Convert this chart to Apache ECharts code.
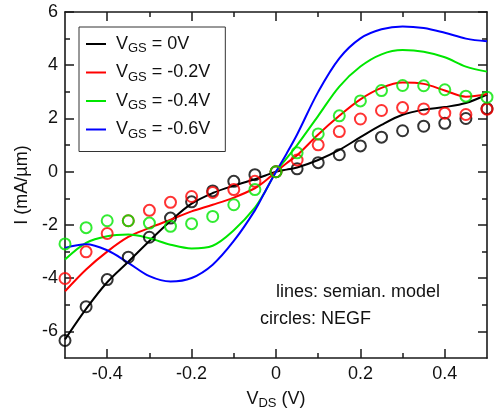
<!DOCTYPE html>
<html>
<head>
<meta charset="utf-8">
<script src="https://cdn.jsdelivr.net/npm/echarts@6/dist/echarts.min.js"></script>
<style>
  html, body { margin: 0; padding: 0; background: #fff; }
  #chart { width: 495px; height: 415px; }
</style>
</head>
<body>
<div id="chart"></div>
<script>
// Drain bias grid for the semi-analytical model curves (V)
const vdsLine = [-0.5, -0.45, -0.4, -0.35, -0.3, -0.25, -0.2, -0.15, -0.1, -0.05, -0.025, 0,
                 0.025, 0.05, 0.1, 0.15, 0.2, 0.25, 0.3, 0.35, 0.4, 0.45, 0.5];
// Model current (mA/um) for each gate bias
const lineVgs0  = [-6.3, -5.15, -4.15, -3.38, -2.6, -1.85, -1.2, -0.8, -0.52, -0.28, -0.14, 0,
                   0.08, 0.16, 0.44, 0.82, 1.3, 1.76, 2.14, 2.33, 2.43, 2.58, 2.9];
const lineVgs02 = [-4.49, -3.67, -3.0, -2.45, -2.11, -1.8, -1.49, -1.24, -0.97, -0.62, -0.34, 0,
                   0.32, 0.62, 1.4, 2.1, 2.72, 3.15, 3.35, 3.3, 3.05, 2.82, 2.92];
const lineVgs04 = [-3.3, -2.67, -2.42, -2.36, -2.5, -2.74, -2.88, -2.78, -2.2, -1.35, -0.72, 0,
                   0.5, 1.0, 2.1, 3.2, 3.95, 4.41, 4.57, 4.51, 4.3, 3.95, 3.76];
const lineVgs06 = [-2.86, -2.72, -2.95, -3.42, -3.92, -4.12, -3.99, -3.49, -2.6, -1.45, -0.72, 0,
                   0.68, 1.4, 3.0, 4.26, 5.01, 5.35, 5.46, 5.4, 5.22, 5.0, 4.9];

// Drain bias points of the NEGF simulations (V)
const vdsNegf = [-0.5, -0.45, -0.4, -0.35, -0.3, -0.25, -0.2, -0.15, -0.1, -0.05, 0,
                 0.05, 0.1, 0.15, 0.2, 0.25, 0.3, 0.35, 0.4, 0.45, 0.5];
const negfVgs0  = [-6.34, -5.07, -4.05, -3.21, -2.46, -1.74, -1.13, -0.72, -0.36, -0.11, 0,
                   0.11, 0.34, 0.64, 0.97, 1.3, 1.54, 1.71, 1.82, 2.0, 2.37];
const negfVgs02 = [-4.01, -3.01, -2.32, -1.84, -1.45, -1.15, -0.93, -0.78, -0.67, -0.36, 0,
                   0.44, 1.01, 1.51, 1.98, 2.3, 2.41, 2.36, 2.2, 2.15, 2.35];
const negfVgs04 = [-2.71, -2.1, -1.84, -1.84, -1.93, -2.05, -1.95, -1.68, -1.24, -0.67, 0,
                   0.71, 1.42, 2.1, 2.66, 3.05, 3.24, 3.23, 3.08, 2.84, 2.8];

const legendNames = ['VGS = 0V', 'VGS = -0.2V', 'VGS = -0.4V', 'VGS = -0.6V'];
const colors = ['#000000', '#ff0000', '#00e600', '#0000ff'];

// Axis ticks
const xMajor = [-0.4, -0.2, 0, 0.2, 0.4];
const xMinor = [-0.3, -0.1, 0.1, 0.3];
const yMajor = [-6, -4, -2, 0, 2, 4, 6];
const yMinor = [-5, -3, -1, 1, 3, 5];

const FONT = 'Liberation Sans, Arial, Helvetica, sans-serif';
const AXIS_COLOR = '#1a1a1a';

function pairs(xs, ys) { return xs.map((x, i) => [x, ys[i]]); }

function makeAxis(kind, position, ticks, tickLen, withLine, withLabels) {
  return {
    type: 'value',
    position: position,
    min: kind === 'x' ? -0.5 : -7,
    max: kind === 'x' ? 0.5 : 6,
    splitLine: { show: false },
    axisLine: { show: withLine, onZero: false, lineStyle: { color: AXIS_COLOR, width: 1.6 } },
    axisTick: { show: true, inside: true, length: tickLen, customValues: ticks,
                lineStyle: { color: AXIS_COLOR, width: 1.5 } },
    axisLabel: { show: withLabels, customValues: ticks, color: '#111',
                 fontFamily: FONT, fontSize: 18, margin: 7 }
  };
}

const xAxes = [
  makeAxis('x', 'bottom', xMajor, 9, true, true),
  makeAxis('x', 'bottom', xMinor, 5, false, false),
  makeAxis('x', 'top', xMajor, 9, true, false),
  makeAxis('x', 'top', xMinor, 5, false, false)
];
Object.assign(xAxes[0], {
  name: '{v|V}{s|DS}{v| (V)}',
  nameLocation: 'middle',
  nameGap: 28,
  nameTextStyle: {
    rich: {
      v: { fontFamily: FONT, fontSize: 18, color: '#111', lineHeight: 22 },
      s: { fontFamily: FONT, fontSize: 13, color: '#111', lineHeight: 22, padding: [9, 0, 0, 0] }
    }
  }
});

const yAxes = [
  makeAxis('y', 'left', yMajor, 9, true, true),
  makeAxis('y', 'left', yMinor, 5, false, false),
  makeAxis('y', 'right', yMajor, 9, true, false),
  makeAxis('y', 'right', yMinor, 5, false, false)
];
Object.assign(yAxes[0], {
  name: 'I (mA/\u00b5m)',
  nameLocation: 'middle',
  nameGap: 33,
  nameTextStyle: { fontFamily: FONT, fontSize: 18, color: '#111' }
});

const modelLines = [lineVgs0, lineVgs02, lineVgs04, lineVgs06].map((ys, i) => ({
  type: 'line',
  name: legendNames[i],
  data: pairs(vdsLine, ys),
  smooth: 0.35,
  showSymbol: false,
  symbol: 'none',
  lineStyle: { color: colors[i], width: 2 },
  itemStyle: { color: colors[i] },
  z: 2
}));

const negfSets = [negfVgs0, negfVgs02, negfVgs04].map((ys, i) => ({
  type: 'scatter',
  name: 'NEGF ' + legendNames[i],
  data: pairs(vdsNegf, ys),
  symbol: 'circle',
  symbolSize: 11,
  itemStyle: { color: 'rgba(0,0,0,0)', borderColor: colors[i], borderWidth: 2 },
  z: 3
}));

const legendRich = {
  v: { fontFamily: FONT, fontSize: 18, color: '#111', lineHeight: 22 },
  s: { fontFamily: FONT, fontSize: 13, color: '#111', lineHeight: 22, padding: [9, 0, 0, 0] }
};

const chart = echarts.init(document.getElementById('chart'), null, { renderer: 'canvas' });
chart.setOption({
  animation: false,
  backgroundColor: '#fff',
  grid: { left: 65, right: 8, top: 12, bottom: 56, containLabel: false },
  xAxis: xAxes,
  yAxis: yAxes,
  legend: {
    data: legendNames,
    orient: 'vertical',
    left: 79,
    top: 27,
    padding: [6, 15, 11, 7],
    itemGap: 6.5,
    itemWidth: 20,
    itemHeight: 2,
    icon: 'rect',
    borderColor: '#333',
    borderWidth: 1,
    textStyle: { fontFamily: FONT, fontSize: 18, color: '#111', padding: [0, 0, 0, 5], rich: legendRich },
    formatter: name => '{v|V}{s|GS}{v|' + name.slice(3) + '}'
  },
  graphic: [
    { type: 'text', left: 276, top: 283,
      style: { text: 'lines: semian. model', font: '18px ' + FONT, fill: '#111' } },
    { type: 'text', left: 260, top: 310,
      style: { text: 'circles: NEGF', font: '18px ' + FONT, fill: '#111' } }
  ],
  series: modelLines.concat(negfSets)
});
</script>
</body>
</html>
